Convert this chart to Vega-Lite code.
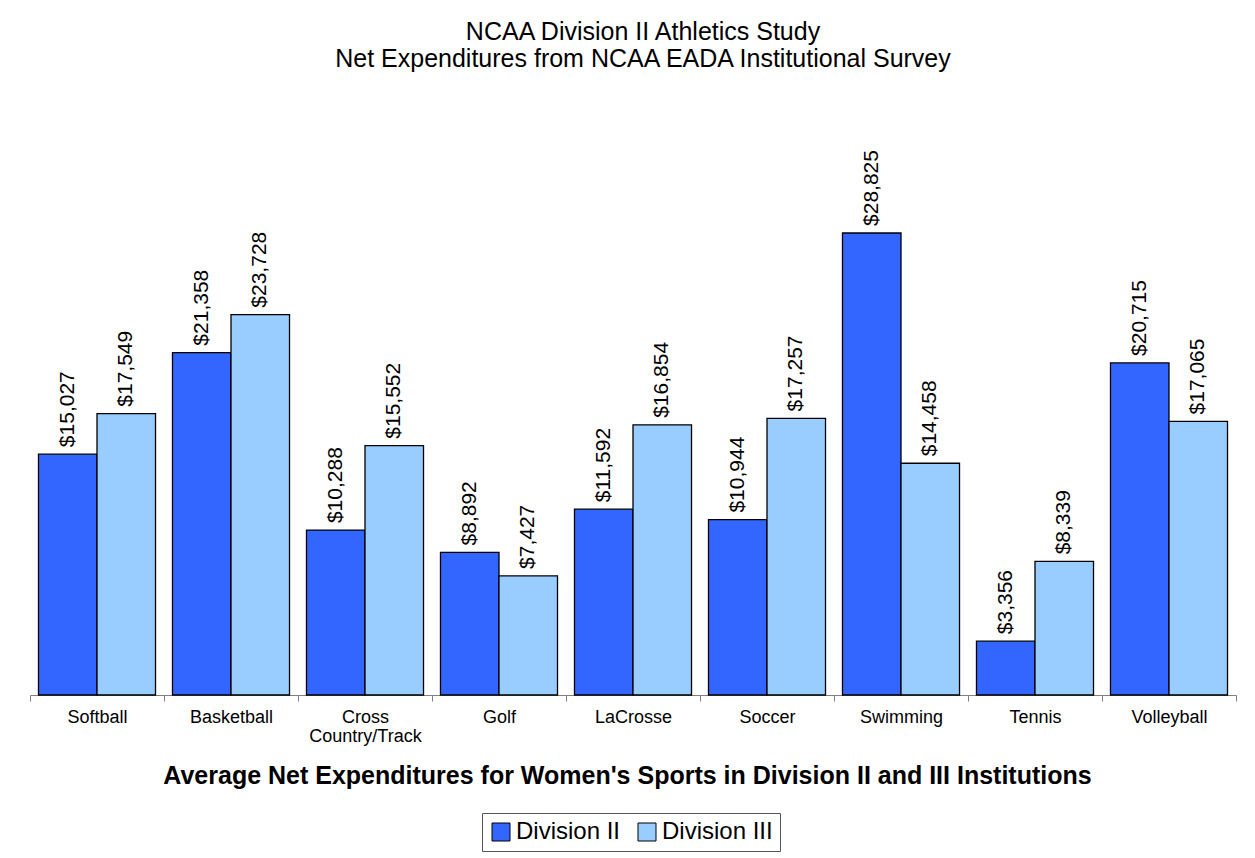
{
  "$schema": "https://vega.github.io/schema/vega-lite/v6.json",
  "width": 1206,
  "height": 561,
  "padding": {"left": 29, "top": 20, "right": 19, "bottom": 5},
  "background": "white",
  "config": {
    "font": "Liberation Sans",
    "view": {"stroke": null}
  },
  "title": {
    "text": ["NCAA Division II Athletics Study", "Net Expenditures from NCAA EADA Institutional Survey"],
    "fontSize": 25,
    "fontWeight": "normal",
    "lineHeight": 27,
    "offset": 62,
    "anchor": "middle",
    "dx": 10,
    "color": "black"
  },
  "data": {
    "values": [
      {"sport": "Softball", "division": "Division II", "value": 15027},
      {"sport": "Softball", "division": "Division III", "value": 17549},
      {"sport": "Basketball", "division": "Division II", "value": 21358},
      {"sport": "Basketball", "division": "Division III", "value": 23728},
      {"sport": "Cross Country/Track", "division": "Division II", "value": 10288},
      {"sport": "Cross Country/Track", "division": "Division III", "value": 15552},
      {"sport": "Golf", "division": "Division II", "value": 8892},
      {"sport": "Golf", "division": "Division III", "value": 7427},
      {"sport": "LaCrosse", "division": "Division II", "value": 11592},
      {"sport": "LaCrosse", "division": "Division III", "value": 16854},
      {"sport": "Soccer", "division": "Division II", "value": 10944},
      {"sport": "Soccer", "division": "Division III", "value": 17257},
      {"sport": "Swimming", "division": "Division II", "value": 28825},
      {"sport": "Swimming", "division": "Division III", "value": 14458},
      {"sport": "Tennis", "division": "Division II", "value": 3356},
      {"sport": "Tennis", "division": "Division III", "value": 8339},
      {"sport": "Volleyball", "division": "Division II", "value": 20715},
      {"sport": "Volleyball", "division": "Division III", "value": 17065}
    ]
  },
  "encoding": {
    "x": {
      "field": "sport",
      "type": "nominal",
      "sort": null,
      "scale": {"paddingInner": 0, "paddingOuter": 0},
      "axis": {
        "title": "Average Net Expenditures for Women's Sports in Division II and III Institutions",
        "titleFontSize": 25,
        "titleFontWeight": "bold",
        "titleColor": "black",
        "titlePadding": 18,
        "titleX": 597,
        "labelAngle": 0,
        "labelFontSize": 18,
        "labelColor": "black",
        "labelPadding": 7,
        "labelLineHeight": 19,
        "labelExpr": "datum.label == 'Cross Country/Track' ? ['Cross', 'Country/Track'] : datum.label",
        "tickBand": "extent",
        "tickColor": "#808080",
        "tickSize": 6,
        "domainColor": "#808080",
        "domainWidth": 1
      }
    },
    "xOffset": {
      "field": "division",
      "type": "nominal",
      "scale": {"paddingInner": 0, "paddingOuter": 0.145}
    },
    "y": {
      "field": "value",
      "type": "quantitative",
      "scale": {"domain": [0, 35000]},
      "axis": null
    }
  },
  "layer": [
    {
      "mark": {"type": "bar", "stroke": "black", "strokeWidth": 1.3},
      "encoding": {
        "fill": {
          "field": "division",
          "type": "nominal",
          "scale": {"domain": ["Division II", "Division III"], "range": ["#3366FF", "#99CCFF"]},
          "legend": {
            "title": null,
            "orient": "none",
            "legendX": 452,
            "legendY": 679,
            "direction": "horizontal",
            "symbolType": "square",
            "symbolSize": 324,
            "symbolStrokeColor": "black",
            "symbolStrokeWidth": 1,
            "labelFontSize": 24,
            "labelColor": "black",
            "labelOffset": 3,
            "columnPadding": 14,
            "strokeColor": "#555555",
            "padding": 7,
            "fillColor": "white"
          }
        }
      }
    },
    {
      "mark": {"type": "text", "angle": 270, "align": "left", "baseline": "middle", "dx": 7, "fontSize": 21, "color": "black"},
      "encoding": {
        "text": {"field": "value", "type": "quantitative", "format": "$,.0f"}
      }
    }
  ]
}
